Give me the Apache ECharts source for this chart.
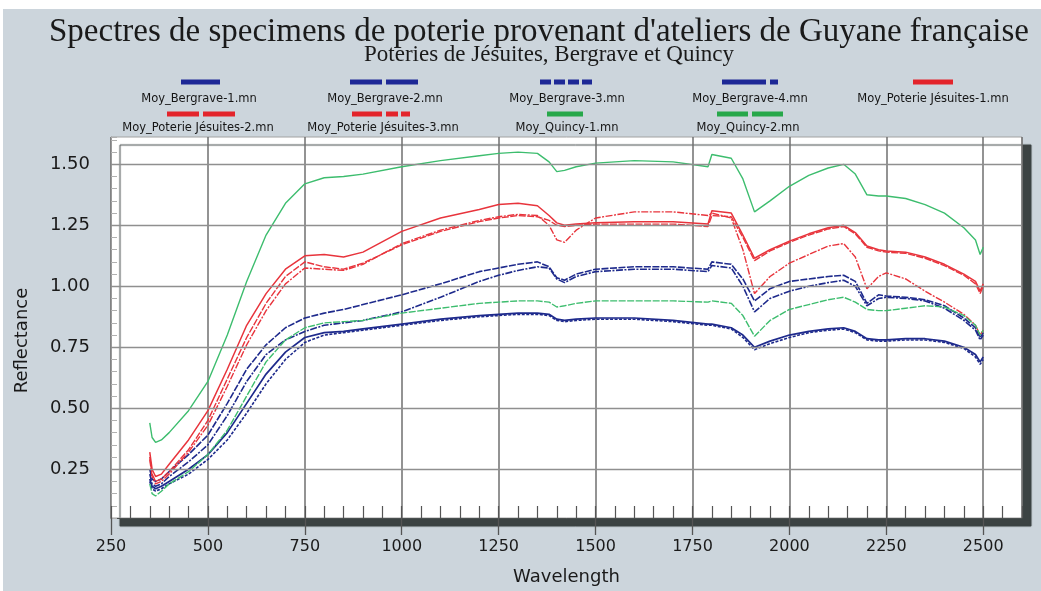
<!DOCTYPE html>
<html>
<head>
<meta charset="utf-8">
<script src="https://cdn.jsdelivr.net/npm/echarts@6/dist/echarts.min.js"></script>
<style>
  html, body { margin: 0; padding: 0; background: #ffffff; }
  #chart { width: 1041px; height: 591px; }
</style>
</head>
<body>
<div id="chart"></div>
<script>
// Wavelength sampling (nm) shared by every spectrum
const WAVELENGTHS = [350, 356, 365, 380, 400, 450, 500, 550, 600, 650, 700, 750, 800, 850, 900, 1000, 1100, 1200, 1250, 1300, 1350, 1380, 1400, 1420, 1450, 1500, 1600, 1700, 1790, 1800, 1850, 1880, 1910, 1950, 2000, 2050, 2100, 2140, 2170, 2200, 2230, 2250, 2300, 2350, 2400, 2450, 2480, 2492, 2500];

// Mean reflectance spectra
const BERGRAVE_1 = [0.21, 0.18, 0.17, 0.18, 0.20, 0.25, 0.31, 0.40, 0.52, 0.64, 0.73, 0.79, 0.81, 0.815, 0.825, 0.845, 0.865, 0.88, 0.885, 0.89, 0.89, 0.885, 0.865, 0.86, 0.865, 0.87, 0.87, 0.86, 0.845, 0.845, 0.83, 0.80, 0.75, 0.775, 0.80, 0.815, 0.825, 0.83, 0.815, 0.785, 0.78, 0.78, 0.785, 0.785, 0.775, 0.75, 0.72, 0.69, 0.71];
const BERGRAVE_2 = [0.25, 0.21, 0.20, 0.21, 0.24, 0.31, 0.39, 0.52, 0.66, 0.76, 0.83, 0.87, 0.89, 0.905, 0.925, 0.965, 1.01, 1.06, 1.075, 1.09, 1.10, 1.08, 1.035, 1.025, 1.05, 1.07, 1.08, 1.08, 1.07, 1.10, 1.09, 1.03, 0.94, 0.99, 1.02, 1.03, 1.04, 1.045, 1.02, 0.93, 0.965, 0.96, 0.955, 0.945, 0.92, 0.87, 0.83, 0.79, 0.81];
const BERGRAVE_3 = [0.20, 0.17, 0.16, 0.17, 0.19, 0.23, 0.29, 0.37, 0.48, 0.60, 0.70, 0.77, 0.80, 0.81, 0.82, 0.84, 0.86, 0.875, 0.88, 0.885, 0.885, 0.88, 0.86, 0.855, 0.86, 0.865, 0.865, 0.855, 0.84, 0.84, 0.825, 0.79, 0.74, 0.765, 0.79, 0.81, 0.82, 0.825, 0.81, 0.78, 0.775, 0.775, 0.78, 0.78, 0.77, 0.745, 0.71, 0.68, 0.70];
const BERGRAVE_4 = [0.23, 0.19, 0.18, 0.19, 0.22, 0.28, 0.35, 0.47, 0.61, 0.72, 0.78, 0.815, 0.84, 0.85, 0.86, 0.895, 0.955, 1.02, 1.045, 1.065, 1.08, 1.075, 1.03, 1.015, 1.04, 1.06, 1.07, 1.07, 1.06, 1.085, 1.075, 1.00, 0.895, 0.95, 0.98, 1.00, 1.015, 1.025, 1.00, 0.92, 0.95, 0.955, 0.95, 0.94, 0.91, 0.86, 0.82, 0.78, 0.80];
const JESUITES_1 = [0.32, 0.25, 0.22, 0.23, 0.27, 0.37, 0.49, 0.66, 0.84, 0.97, 1.07, 1.125, 1.13, 1.12, 1.14, 1.225, 1.28, 1.315, 1.335, 1.34, 1.33, 1.29, 1.26, 1.25, 1.255, 1.26, 1.265, 1.265, 1.255, 1.31, 1.30, 1.21, 1.115, 1.15, 1.185, 1.215, 1.24, 1.25, 1.22, 1.165, 1.15, 1.145, 1.14, 1.12, 1.09, 1.05, 1.02, 0.98, 1.01];
const JESUITES_2 = [0.30, 0.23, 0.20, 0.21, 0.24, 0.33, 0.45, 0.62, 0.79, 0.93, 1.04, 1.10, 1.08, 1.07, 1.095, 1.17, 1.225, 1.265, 1.28, 1.29, 1.285, 1.27, 1.25, 1.245, 1.25, 1.255, 1.255, 1.255, 1.245, 1.29, 1.285, 1.20, 1.105, 1.145, 1.18, 1.21, 1.235, 1.245, 1.215, 1.16, 1.145, 1.14, 1.135, 1.115, 1.085, 1.045, 1.01, 0.97, 1.00];
const JESUITES_3 = [0.29, 0.22, 0.19, 0.20, 0.23, 0.32, 0.43, 0.59, 0.76, 0.90, 1.01, 1.075, 1.07, 1.065, 1.09, 1.175, 1.23, 1.27, 1.285, 1.295, 1.29, 1.25, 1.19, 1.18, 1.23, 1.28, 1.305, 1.305, 1.29, 1.30, 1.28, 1.15, 0.97, 1.04, 1.095, 1.13, 1.165, 1.175, 1.12, 0.99, 1.04, 1.055, 1.03, 0.98, 0.935, 0.885, 0.84, 0.80, 0.82];
const QUINCY_1 = [0.44, 0.38, 0.36, 0.37, 0.40, 0.49, 0.61, 0.80, 1.02, 1.21, 1.34, 1.42, 1.445, 1.45, 1.46, 1.49, 1.515, 1.535, 1.545, 1.55, 1.545, 1.51, 1.47, 1.475, 1.49, 1.505, 1.515, 1.51, 1.49, 1.54, 1.525, 1.44, 1.305, 1.35, 1.41, 1.455, 1.485, 1.50, 1.46, 1.375, 1.37, 1.37, 1.36, 1.335, 1.30, 1.24, 1.19, 1.13, 1.16];
const QUINCY_2 = [0.19, 0.15, 0.14, 0.16, 0.19, 0.24, 0.31, 0.41, 0.55, 0.69, 0.78, 0.83, 0.85, 0.855, 0.86, 0.89, 0.91, 0.93, 0.935, 0.94, 0.94, 0.935, 0.915, 0.92, 0.93, 0.94, 0.94, 0.94, 0.935, 0.94, 0.93, 0.88, 0.795, 0.86, 0.905, 0.925, 0.945, 0.955, 0.935, 0.905, 0.90, 0.90, 0.91, 0.92, 0.915, 0.88, 0.84, 0.80, 0.82];

const SERIES_NAMES = [
  'Moy_Bergrave-1.mn', 'Moy_Bergrave-2.mn', 'Moy_Bergrave-3.mn', 'Moy_Bergrave-4.mn',
  'Moy_Poterie Jésuites-1.mn', 'Moy_Poterie Jésuites-2.mn', 'Moy_Poterie Jésuites-3.mn',
  'Moy_Quincy-1.mn', 'Moy_Quincy-2.mn'
];
const SERIES_VALUES = [BERGRAVE_1, BERGRAVE_2, BERGRAVE_3, BERGRAVE_4, JESUITES_1, JESUITES_2, JESUITES_3, QUINCY_1, QUINCY_2];

// Axis tick values
const X_LABEL_STEP = 250;
const Y_GRID_VALUES = [0.25, 0.50, 0.75, 1.00, 1.25, 1.50];

// Drawing styles per spectrum
const BLUE = '#1e2a8c', RED = '#e8343c', GREEN = '#3dbd6e';
const KEY_BLUE = '#1d2896', KEY_RED = '#e3242b', KEY_GREEN = '#27a84a';
const STYLES = [
  { color: BLUE,  key: KEY_BLUE,  width: 1.7, dash: 'solid' },
  { color: BLUE,  key: KEY_BLUE,  width: 1.6, dash: [7, 1.5] },
  { color: BLUE,  key: KEY_BLUE,  width: 1.6, dash: [3, 1.5] },
  { color: BLUE,  key: KEY_BLUE,  width: 1.6, dash: [7, 1.5, 2, 1.5] },
  { color: RED,   key: KEY_RED,   width: 1.5, dash: 'solid' },
  { color: RED,   key: KEY_RED,   width: 1.4, dash: [7, 1.5] },
  { color: RED,   key: KEY_RED,   width: 1.4, dash: [7, 1.5, 2, 1.5] },
  { color: GREEN, key: KEY_GREEN, width: 1.4, dash: 'solid' },
  { color: GREEN, key: KEY_GREEN, width: 1.4, dash: [7, 1.5] }
];

// Key layout: swatch span, swatch row, label centre
const KEY_LAYOUT = [
  { x1: 181, x2: 220, sy: 82,  tx: 199, ty: 99,  dash: null },
  { x1: 350, x2: 418, sy: 82,  tx: 385, ty: 99,  dash: [32, 4] },
  { x1: 540, x2: 592, sy: 82,  tx: 567, ty: 99,  dash: [11, 3] },
  { x1: 722, x2: 778, sy: 82,  tx: 750, ty: 99,  dash: [44, 4, 8, 60] },
  { x1: 913, x2: 953, sy: 82,  tx: 933, ty: 99,  dash: null },
  { x1: 167, x2: 235, sy: 114, tx: 198, ty: 128, dash: [32, 4] },
  { x1: 352, x2: 410, sy: 114, tx: 383, ty: 128, dash: [30, 4, 12, 3, 10, 60] },
  { x1: 547, x2: 583, sy: 114, tx: 567, ty: 128, dash: null },
  { x1: 717, x2: 783, sy: 114, tx: 748, ty: 128, dash: [31, 4] }
];

const SANS = 'DejaVu Sans';
const SERIF = 'Liberation Serif';

const series = SERIES_NAMES.map((name, i) => ({
  name: name,
  type: 'line',
  xAxisIndex: 0,
  yAxisIndex: 0,
  symbol: 'none',
  smooth: false,
  z: 3,
  lineStyle: { color: STYLES[i].color, width: STYLES[i].width, type: STYLES[i].dash },
  data: WAVELENGTHS.map((w, k) => [w, SERIES_VALUES[i][k]])
}));

// horizontal reference lines at the labelled reflectance values
series.push({
  name: 'grid-lines',
  type: 'line',
  xAxisIndex: 0,
  yAxisIndex: 0,
  z: 1,
  silent: true,
  data: [],
  markLine: {
    silent: true,
    symbol: ['none', 'none'],
    animation: false,
    label: { show: false },
    lineStyle: { color: '#8f8f8f', width: 1.3, type: 'solid' },
    data: Y_GRID_VALUES.map(v => ({ yAxis: v }))
  }
});

const keyGraphics = [
  { type: 'rect', shape: { x: 0, y: 0, width: 1041, height: 9 }, style: { fill: '#ffffff' }, silent: true },
  { type: 'rect', shape: { x: 0, y: 0, width: 3, height: 591 }, style: { fill: '#ffffff' }, silent: true }
];
SERIES_NAMES.forEach((name, i) => {
  const L = KEY_LAYOUT[i];
  keyGraphics.push({
    type: 'line',
    silent: true,
    shape: { x1: L.x1, y1: L.sy, x2: L.x2, y2: L.sy },
    style: { stroke: STYLES[i].key, lineWidth: 5, lineDash: L.dash, lineCap: 'butt' }
  });
  keyGraphics.push({
    type: 'text',
    silent: true,
    x: L.tx,
    y: L.ty,
    style: {
      text: name, align: 'center', verticalAlign: 'middle',
      fontFamily: SANS, fontSize: 11.5, fill: '#151515'
    }
  });
});

const chart = echarts.init(document.getElementById('chart'), null, { renderer: 'canvas' });
chart.setOption({
  animation: false,
  backgroundColor: '#ccd5dc',
  title: [
    {
      text: "Spectres de specimens de poterie provenant d'ateliers de Guyane française",
      left: 44,
      top: 11,
      textStyle: { fontFamily: SERIF, fontSize: 33, fontWeight: 'normal', color: '#1a1a1a' }
    },
    {
      text: 'Poteries de Jésuites, Bergrave et Quincy',
      left: 359,
      top: 38,
      textStyle: { fontFamily: SERIF, fontSize: 23, fontWeight: 'normal', color: '#1a1a1a' }
    }
  ],
  graphic: keyGraphics,
  grid: {
    left: 111, top: 137, width: 911, height: 390,
    show: true,
    backgroundColor: '#ffffff',
    borderColor: '#a2a2a2',
    borderWidth: 1,
    shadowColor: '#3c4343',
    shadowBlur: 1,
    shadowOffsetX: 9,
    shadowOffsetY: 8
  },
  xAxis: [
    {
      type: 'value', min: 250, max: 2600, interval: X_LABEL_STEP,
      name: 'Wavelength', nameLocation: 'middle', nameGap: 50,
      nameTextStyle: { fontFamily: SANS, fontSize: 18, color: '#1a1a1a' },
      axisLine: { show: true, lineStyle: { color: '#4a4f4f', width: 1 } },
      axisTick: { show: true, inside: false, length: 17, lineStyle: { color: '#555', width: 1.3 } },
      axisLabel: {
        margin: 21, fontFamily: SANS, fontSize: 16, color: '#1a1a1a', showMaxLabel: false,
        formatter: function (v) { return String(v); }
      },
      splitLine: { show: true, lineStyle: { color: '#6f6f6f', width: 1.5 } }
    },
    {
      type: 'value', min: 250, max: 2600, interval: 50,
      position: 'bottom',
      axisLine: { show: false },
      axisTick: { show: true, inside: true, length: 12, lineStyle: { color: '#555', width: 1.2 } },
      axisLabel: { show: false },
      splitLine: { show: false }
    }
  ],
  yAxis: {
    type: 'value', min: 0.05, max: 1.612, interval: 0.05,
    name: 'Reflectance', nameLocation: 'middle', nameGap: 80,
    nameTextStyle: { fontFamily: SANS, fontSize: 18, color: '#1a1a1a', padding: [0, 26, 0, 0] },
    axisLine: { show: true, lineStyle: { color: '#9a9a9a', width: 1 } },
    axisTick: { show: true, inside: true, length: 6, lineStyle: { color: '#b0b0b0', width: 1 } },
    axisLabel: {
      margin: 21, fontFamily: SANS, fontSize: 18, color: '#1a1a1a',
      formatter: function (v) {
        return Y_GRID_VALUES.some(g => Math.abs(g - v) < 1e-6) ? v.toFixed(2) : '';
      }
    },
    splitLine: { show: false }
  },
  series: series
});
</script>
</body>
</html>
